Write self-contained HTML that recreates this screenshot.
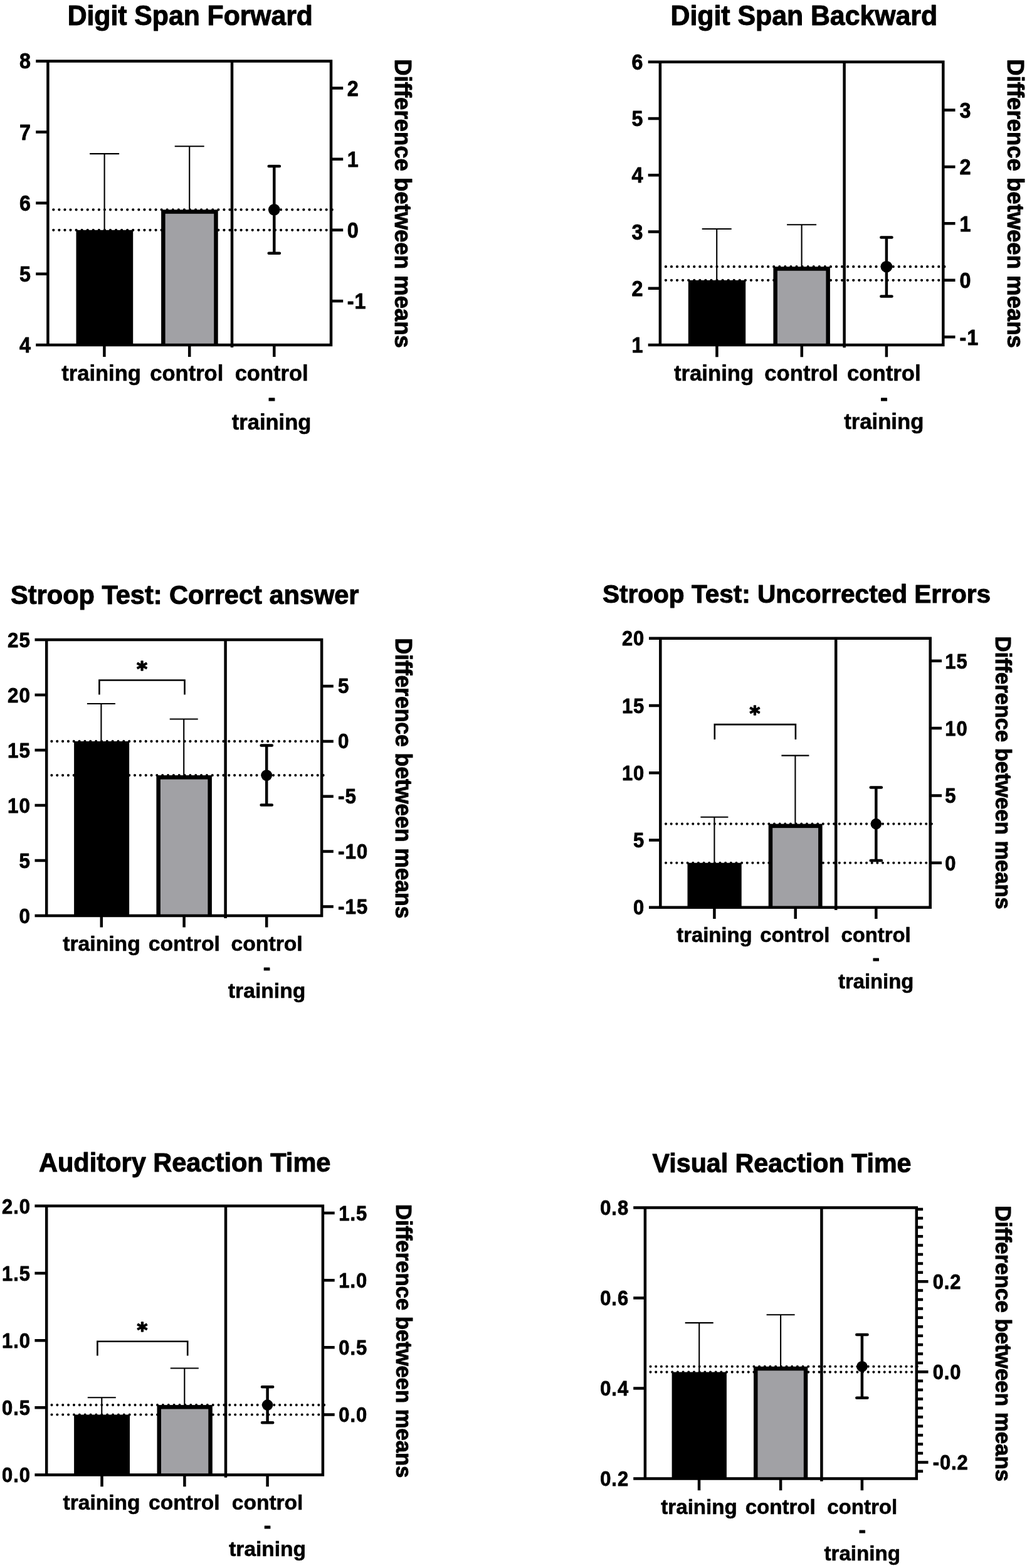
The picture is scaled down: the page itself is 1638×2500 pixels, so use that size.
<!DOCTYPE html>
<html lang="en">
<head>
<meta charset="utf-8">
<title>Cognitive test results: training vs control</title>
<style>
html,body{margin:0;padding:0;background:#fff;}
body{width:1638px;height:2500px;overflow:hidden;}
svg{display:block;filter:blur(0.5px);}
text{font-family:'Liberation Sans', sans-serif;font-weight:700;fill:#000;}
.star{font-family:'DejaVu Sans','Liberation Sans',sans-serif;}
.bd{stroke:#000;stroke-linejoin:round;paint-order:stroke fill;}
.ax{fill:none;stroke:#000;stroke-linecap:butt;}
.rc{stroke-linecap:round;}
.thin{fill:none;stroke:#000;stroke-linecap:butt;stroke-linejoin:miter;}
.dot{fill:none;stroke:#000;stroke-linecap:round;}
</style>
</head>
<body>
<svg width="1638" height="2500" viewBox="0 0 1638 2500">
<rect width="1638" height="2500" fill="#fff"/>
<g>
<text class="ttl bd" font-size="42.7" text-anchor="middle" stroke-width="1" transform="translate(303.3 39.9) scale(1 1.02)">Digit Span Forward</text>
<path class="dot" stroke-width="4.3" stroke-dasharray="0 9.07" d="M85.3 366.8H531.2"/>
<path class="dot" stroke-width="4.3" stroke-dasharray="0 9.07" d="M85.3 334.3H531.2"/>
<rect x="121.5" y="366.8" width="90.7" height="183.1" fill="#000"/>
<rect x="257.1" y="334.3" width="90.6" height="215.6" fill="#000"/>
<rect x="263.6" y="340.8" width="77.6" height="209.1" fill="#a1a1a5"/>
<path class="thin" stroke-width="2.1" d="M166.6 366.8V245.1M143.1 245.1H190.1"/>
<path class="thin" stroke-width="2.1" d="M302.2 334.3V233.3M278.7 233.3H325.7"/>
<path class="ax" stroke-width="4.5" d="M57.2 97.4H530.25M57.2 549.9H530.25M76.4 97.4V549.9M528 95.15V552.15M370 97.4V554.1"/>
<text class="lbl bd" font-size="34" text-anchor="end" stroke-width="0.8" letter-spacing="1" transform="translate(50 109.47) scale(0.95 1.03)">8</text>
<text class="lbl bd" font-size="34" text-anchor="end" stroke-width="0.8" letter-spacing="1" transform="translate(50 222.59) scale(0.95 1.03)">7</text>
<text class="lbl bd" font-size="34" text-anchor="end" stroke-width="0.8" letter-spacing="1" transform="translate(50 335.72) scale(0.95 1.03)">6</text>
<text class="lbl bd" font-size="34" text-anchor="end" stroke-width="0.8" letter-spacing="1" transform="translate(50 448.84) scale(0.95 1.03)">5</text>
<text class="lbl bd" font-size="34" text-anchor="end" stroke-width="0.8" letter-spacing="1" transform="translate(50 561.97) scale(0.95 1.03)">4</text>
<text class="lbl bd" font-size="34" stroke-width="0.8" letter-spacing="1" transform="translate(553.8 153.01) scale(0.95 1.03)">2</text>
<text class="lbl bd" font-size="34" stroke-width="0.8" letter-spacing="1" transform="translate(553.8 266.11) scale(0.95 1.03)">1</text>
<text class="lbl bd" font-size="34" stroke-width="0.8" letter-spacing="1" transform="translate(553.8 379.21) scale(0.95 1.03)">0</text>
<text class="lbl bd" font-size="34" stroke-width="0.8" letter-spacing="1" transform="translate(553.8 492.31) scale(0.95 1.03)">-1</text>
<path class="ax" stroke-width="4.5" d="M57.2 210.53H76.4M57.2 323.65H76.4M57.2 436.77H76.4M528 140.6H547.2M528 253.7H547.2M528 366.8H547.2M528 479.9H547.2M166.4 549.9V569.1M302.2 549.9V569.1M437.3 549.9V569.1"/>
<path class="ax rc" stroke-width="4.5" d="M437.3 264.9V403.8M428.7 264.9H445.9M428.7 403.8H445.9"/>
<circle cx="437.3" cy="334.3" r="9.3" fill="#000"/>
<text class="lbl bd" font-size="34.5" text-anchor="middle" stroke-width="0.6" transform="translate(161.6 606.9)">training</text>
<text class="lbl bd" font-size="34.5" text-anchor="middle" stroke-width="0.6" transform="translate(297.8 606.9)">control</text>
<text class="lbl bd" font-size="34.5" text-anchor="middle" stroke-width="0.6" transform="translate(433.1 606.9)">control</text>
<text class="lbl bd" font-size="34.5" text-anchor="middle" stroke-width="1.2" transform="translate(433.5 645.8)">-</text>
<text class="lbl bd" font-size="34.5" text-anchor="middle" stroke-width="0.6" transform="translate(433.1 684.7)">training</text>
<text class="lbl bd" font-size="36.5" stroke-width="1" transform="translate(630 94.3) rotate(90) scale(1 1.03)">Difference between means</text>
</g>
<g>
<text class="ttl bd" font-size="42.8" text-anchor="middle" stroke-width="1" transform="translate(1282.3 39.9) scale(1 1.02)">Digit Span Backward</text>
<path class="dot" stroke-width="4.3" stroke-dasharray="0 9.07" d="M1061.9 446.8H1508.2"/>
<path class="dot" stroke-width="4.3" stroke-dasharray="0 9.07" d="M1061.9 425.2H1508.2"/>
<rect x="1097.8" y="446.8" width="91.4" height="103.3" fill="#000"/>
<rect x="1233.4" y="425.2" width="90.5" height="124.9" fill="#000"/>
<rect x="1239.9" y="431.7" width="77.5" height="118.4" fill="#a1a1a5"/>
<path class="thin" stroke-width="2.1" d="M1143.2 446.8V365M1119.7 365H1166.7"/>
<path class="thin" stroke-width="2.1" d="M1278.6 425.2V358.3M1255.1 358.3H1302.1"/>
<path class="ax" stroke-width="4.5" d="M1033.7 98.75H1506.55M1033.7 550.1H1506.55M1052.9 98.75V550.1M1504.3 96.5V552.35M1346.6 98.75V554.3"/>
<text class="lbl bd" font-size="34" text-anchor="end" stroke-width="0.8" letter-spacing="1" transform="translate(1026.5 110.82) scale(0.95 1.03)">6</text>
<text class="lbl bd" font-size="34" text-anchor="end" stroke-width="0.8" letter-spacing="1" transform="translate(1026.5 201.09) scale(0.95 1.03)">5</text>
<text class="lbl bd" font-size="34" text-anchor="end" stroke-width="0.8" letter-spacing="1" transform="translate(1026.5 291.36) scale(0.95 1.03)">4</text>
<text class="lbl bd" font-size="34" text-anchor="end" stroke-width="0.8" letter-spacing="1" transform="translate(1026.5 381.63) scale(0.95 1.03)">3</text>
<text class="lbl bd" font-size="34" text-anchor="end" stroke-width="0.8" letter-spacing="1" transform="translate(1026.5 471.9) scale(0.95 1.03)">2</text>
<text class="lbl bd" font-size="34" text-anchor="end" stroke-width="0.8" letter-spacing="1" transform="translate(1026.5 562.17) scale(0.95 1.03)">1</text>
<text class="lbl bd" font-size="34" stroke-width="0.8" letter-spacing="1" transform="translate(1530.5 187.86) scale(0.95 1.03)">3</text>
<text class="lbl bd" font-size="34" stroke-width="0.8" letter-spacing="1" transform="translate(1530.5 278.31) scale(0.95 1.03)">2</text>
<text class="lbl bd" font-size="34" stroke-width="0.8" letter-spacing="1" transform="translate(1530.5 368.76) scale(0.95 1.03)">1</text>
<text class="lbl bd" font-size="34" stroke-width="0.8" letter-spacing="1" transform="translate(1530.5 459.21) scale(0.95 1.03)">0</text>
<text class="lbl bd" font-size="34" stroke-width="0.8" letter-spacing="1" transform="translate(1530.5 549.66) scale(0.95 1.03)">-1</text>
<path class="ax" stroke-width="4.5" d="M1033.7 189.02H1052.9M1033.7 279.29H1052.9M1033.7 369.56H1052.9M1033.7 459.83H1052.9M1504.3 175.45H1523.5M1504.3 265.9H1523.5M1504.3 356.35H1523.5M1504.3 446.8H1523.5M1504.3 537.25H1523.5M1143.4 550.1V569.3M1278.8 550.1V569.3M1413.9 550.1V569.3"/>
<path class="ax rc" stroke-width="4.5" d="M1413.9 378.5V472.4M1405.3 378.5H1422.5M1405.3 472.4H1422.5"/>
<circle cx="1413.9" cy="425.2" r="9.3" fill="#000"/>
<text class="lbl bd" font-size="34.7" text-anchor="middle" stroke-width="0.6" transform="translate(1138.6 606.9)">training</text>
<text class="lbl bd" font-size="34.7" text-anchor="middle" stroke-width="0.6" transform="translate(1278 606.9)">control</text>
<text class="lbl bd" font-size="34.7" text-anchor="middle" stroke-width="0.6" transform="translate(1409.8 606.9)">control</text>
<text class="lbl bd" font-size="34.7" text-anchor="middle" stroke-width="1.2" transform="translate(1410.1 645.5)">-</text>
<text class="lbl bd" font-size="34.7" text-anchor="middle" stroke-width="0.6" transform="translate(1409.8 684.1)">training</text>
<text class="lbl bd" font-size="36.5" stroke-width="1" transform="translate(1606.6 94.3) rotate(90) scale(1 1.03)">Difference between means</text>
</g>
<g>
<text class="ttl bd" font-size="41.55" text-anchor="middle" stroke-width="1" transform="translate(294.8 962.9) scale(1 1.02)">Stroop Test: Correct answer</text>
<path class="dot" stroke-width="4.2" stroke-dasharray="0 8.84" d="M82.4 1181.9H516.4"/>
<path class="dot" stroke-width="4.2" stroke-dasharray="0 8.84" d="M82.4 1236.1H516.4"/>
<rect x="118.1" y="1181.9" width="88" height="278" fill="#000"/>
<rect x="249.4" y="1236.1" width="88.5" height="223.8" fill="#000"/>
<rect x="255.9" y="1242.6" width="75.5" height="217.3" fill="#a1a1a5"/>
<path class="thin" stroke-width="2.1" d="M161.4 1181.9V1122M138.9 1122H183.9"/>
<path class="thin" stroke-width="2.1" d="M293.2 1236.1V1146.5M270.7 1146.5H315.7"/>
<path class="thin" stroke-width="2.6" d="M158.4 1107.6V1084.5H294.5V1107.6"/>
<text class="star bd" font-size="32.6" text-anchor="middle" stroke-width="1.6" transform="translate(226.5 1077.4)">*</text>
<path class="ax" stroke-width="4.5" d="M55.5 1019.9H515.35M55.5 1459.9H515.35M74.2 1019.9V1459.9M513.1 1017.65V1462.15M359.6 1019.9V1464.1"/>
<text class="lbl bd" font-size="33" text-anchor="end" stroke-width="0.8" letter-spacing="1" transform="translate(48.8 1031.62) scale(0.95 1.03)">25</text>
<text class="lbl bd" font-size="33" text-anchor="end" stroke-width="0.8" letter-spacing="1" transform="translate(48.8 1119.62) scale(0.95 1.03)">20</text>
<text class="lbl bd" font-size="33" text-anchor="end" stroke-width="0.8" letter-spacing="1" transform="translate(48.8 1207.62) scale(0.95 1.03)">15</text>
<text class="lbl bd" font-size="33" text-anchor="end" stroke-width="0.8" letter-spacing="1" transform="translate(48.8 1295.62) scale(0.95 1.03)">10</text>
<text class="lbl bd" font-size="33" text-anchor="end" stroke-width="0.8" letter-spacing="1" transform="translate(48.8 1383.62) scale(0.95 1.03)">5</text>
<text class="lbl bd" font-size="33" text-anchor="end" stroke-width="0.8" letter-spacing="1" transform="translate(48.8 1471.62) scale(0.95 1.03)">0</text>
<text class="lbl bd" font-size="33" stroke-width="0.8" letter-spacing="1" transform="translate(539 1105.27) scale(0.95 1.03)">5</text>
<text class="lbl bd" font-size="33" stroke-width="0.8" letter-spacing="1" transform="translate(539 1193.12) scale(0.95 1.03)">0</text>
<text class="lbl bd" font-size="33" stroke-width="0.8" letter-spacing="1" transform="translate(539 1280.97) scale(0.95 1.03)">-5</text>
<text class="lbl bd" font-size="33" stroke-width="0.8" letter-spacing="1" transform="translate(539 1368.82) scale(0.95 1.03)">-10</text>
<text class="lbl bd" font-size="33" stroke-width="0.8" letter-spacing="1" transform="translate(539 1456.67) scale(0.95 1.03)">-15</text>
<path class="ax" stroke-width="4.5" d="M55.5 1107.9H74.2M55.5 1195.9H74.2M55.5 1283.9H74.2M55.5 1371.9H74.2M513.1 1094.05H531.8M513.1 1181.9H531.8M513.1 1269.75H531.8M513.1 1357.6H531.8M513.1 1445.45H531.8M161.8 1459.9V1478.6M293.6 1459.9V1478.6M425.2 1459.9V1478.6"/>
<path class="ax rc" stroke-width="4.5" d="M425.2 1188.5V1283.6M416.6 1188.5H433.8M416.6 1283.6H433.8"/>
<circle cx="425.2" cy="1236.1" r="8.9" fill="#000"/>
<text class="lbl bd" font-size="33.7" text-anchor="middle" stroke-width="0.6" transform="translate(162 1515.7)">training</text>
<text class="lbl bd" font-size="33.7" text-anchor="middle" stroke-width="0.6" transform="translate(293.8 1515.7)">control</text>
<text class="lbl bd" font-size="33.7" text-anchor="middle" stroke-width="0.6" transform="translate(425.6 1515.7)">control</text>
<text class="lbl bd" font-size="33.7" text-anchor="middle" stroke-width="1.2" transform="translate(425.6 1553.5)">-</text>
<text class="lbl bd" font-size="33.7" text-anchor="middle" stroke-width="0.6" transform="translate(425.6 1591.3)">training</text>
<text class="lbl bd" font-size="35.45" stroke-width="1" transform="translate(631 1017.4) rotate(90) scale(1 1.03)">Difference between means</text>
</g>
<g>
<text class="ttl bd" font-size="40.58" text-anchor="middle" stroke-width="1" transform="translate(1270.5 961.2) scale(1 1.02)">Stroop Test: Uncorrected Errors</text>
<path class="dot" stroke-width="4.1" stroke-dasharray="0 8.65" d="M1062 1375.7H1487.1"/>
<path class="dot" stroke-width="4.1" stroke-dasharray="0 8.65" d="M1062 1313.6H1487.1"/>
<rect x="1096.5" y="1375.7" width="86.2" height="71.1" fill="#000"/>
<rect x="1225.7" y="1313.6" width="85.9" height="133.2" fill="#000"/>
<rect x="1232.2" y="1320.1" width="72.9" height="126.7" fill="#a1a1a5"/>
<path class="thin" stroke-width="2.1" d="M1139.4 1375.7V1302.8M1117.4 1302.8H1161.4"/>
<path class="thin" stroke-width="2.1" d="M1268.4 1313.6V1204.6M1246.4 1204.6H1290.4"/>
<path class="thin" stroke-width="2.6" d="M1139.8 1178.9V1155.1H1268.9V1178.9"/>
<text class="star bd" font-size="32.2" text-anchor="middle" stroke-width="1.6" transform="translate(1204 1148.4)">*</text>
<path class="ax" stroke-width="4.5" d="M1035 1017.8H1485.95M1035 1446.8H1485.95M1053.3 1017.8V1446.8M1483.7 1015.55V1449.05M1333.2 1017.8V1451"/>
<text class="lbl bd" font-size="32.5" text-anchor="end" stroke-width="0.8" letter-spacing="1" transform="translate(1028.2 1029.34) scale(0.95 1.03)">20</text>
<text class="lbl bd" font-size="32.5" text-anchor="end" stroke-width="0.8" letter-spacing="1" transform="translate(1028.2 1136.59) scale(0.95 1.03)">15</text>
<text class="lbl bd" font-size="32.5" text-anchor="end" stroke-width="0.8" letter-spacing="1" transform="translate(1028.2 1243.84) scale(0.95 1.03)">10</text>
<text class="lbl bd" font-size="32.5" text-anchor="end" stroke-width="0.8" letter-spacing="1" transform="translate(1028.2 1351.09) scale(0.95 1.03)">5</text>
<text class="lbl bd" font-size="32.5" text-anchor="end" stroke-width="0.8" letter-spacing="1" transform="translate(1028.2 1458.34) scale(0.95 1.03)">0</text>
<text class="lbl bd" font-size="32.5" stroke-width="0.8" letter-spacing="1" transform="translate(1507.3 1065.66) scale(0.95 1.03)">15</text>
<text class="lbl bd" font-size="32.5" stroke-width="0.8" letter-spacing="1" transform="translate(1507.3 1172.96) scale(0.95 1.03)">10</text>
<text class="lbl bd" font-size="32.5" stroke-width="0.8" letter-spacing="1" transform="translate(1507.3 1280.26) scale(0.95 1.03)">5</text>
<text class="lbl bd" font-size="32.5" stroke-width="0.8" letter-spacing="1" transform="translate(1507.3 1387.56) scale(0.95 1.03)">0</text>
<path class="ax" stroke-width="4.5" d="M1035 1125.05H1053.3M1035 1232.3H1053.3M1035 1339.55H1053.3M1483.7 1053.8H1502M1483.7 1161.1H1502M1483.7 1268.4H1502M1483.7 1375.7H1502M1139.4 1446.8V1465.1M1268.7 1446.8V1465.1M1397.3 1446.8V1465.1"/>
<path class="ax rc" stroke-width="4.5" d="M1397.3 1255.6V1371.9M1388.7 1255.6H1405.9M1388.7 1371.9H1405.9"/>
<circle cx="1397.3" cy="1313.6" r="8.8" fill="#000"/>
<text class="lbl bd" font-size="32.8" text-anchor="middle" stroke-width="0.6" transform="translate(1139.4 1501.5)">training</text>
<text class="lbl bd" font-size="32.8" text-anchor="middle" stroke-width="0.6" transform="translate(1267.9 1501.5)">control</text>
<text class="lbl bd" font-size="32.8" text-anchor="middle" stroke-width="0.6" transform="translate(1397.1 1501.5)">control</text>
<text class="lbl bd" font-size="32.8" text-anchor="middle" stroke-width="1.2" transform="translate(1397.1 1538.5)">-</text>
<text class="lbl bd" font-size="32.8" text-anchor="middle" stroke-width="0.6" transform="translate(1397.1 1575.5)">training</text>
<text class="lbl bd" font-size="34.5" stroke-width="1" transform="translate(1588.4 1014.5) rotate(90) scale(1 1.03)">Difference between means</text>
</g>
<g>
<text class="ttl bd" font-size="41.55" text-anchor="middle" stroke-width="1" transform="translate(294.7 1868.3) scale(1 1.02)">Auditory Reaction Time</text>
<path class="dot" stroke-width="4.1" stroke-dasharray="0 8.87" d="M82.5 2255.5H517.7"/>
<path class="dot" stroke-width="4.1" stroke-dasharray="0 8.87" d="M82.5 2240.1H517.7"/>
<rect x="118.1" y="2255.5" width="88.9" height="96" fill="#000"/>
<rect x="250.5" y="2240.1" width="88.3" height="111.4" fill="#000"/>
<rect x="257" y="2246.6" width="75.3" height="104.9" fill="#a1a1a5"/>
<path class="thin" stroke-width="2.1" d="M162.3 2255.5V2228.3M139.8 2228.3H184.8"/>
<path class="thin" stroke-width="2.1" d="M294.3 2240.1V2181.5M271.8 2181.5H316.8"/>
<path class="thin" stroke-width="2.6" d="M155.4 2161.4V2138.7H299.2V2161.4"/>
<text class="star bd" font-size="32.2" text-anchor="middle" stroke-width="1.6" transform="translate(226.9 2131.2)">*</text>
<path class="ax" stroke-width="4.5" d="M55.4 1922.8H517.15M55.4 2351.5H517.15M74.2 1922.8V2351.5M514.9 1920.55V2353.75M360 1922.8V2355.7"/>
<text class="lbl bd" font-size="32.5" text-anchor="end" stroke-width="0.8" letter-spacing="1" transform="translate(48.8 1934.73) scale(0.95 1.03)">2.0</text>
<text class="lbl bd" font-size="32.5" text-anchor="end" stroke-width="0.8" letter-spacing="1" transform="translate(48.8 2041.9) scale(0.95 1.03)">1.5</text>
<text class="lbl bd" font-size="32.5" text-anchor="end" stroke-width="0.8" letter-spacing="1" transform="translate(48.8 2149.08) scale(0.95 1.03)">1.0</text>
<text class="lbl bd" font-size="32.5" text-anchor="end" stroke-width="0.8" letter-spacing="1" transform="translate(48.8 2256.25) scale(0.95 1.03)">0.5</text>
<text class="lbl bd" font-size="32.5" text-anchor="end" stroke-width="0.8" letter-spacing="1" transform="translate(48.8 2363.43) scale(0.95 1.03)">0.0</text>
<text class="lbl bd" font-size="32.5" stroke-width="0.8" letter-spacing="1" transform="translate(540.3 1945.96) scale(0.95 1.03)">1.5</text>
<text class="lbl bd" font-size="32.5" stroke-width="0.8" letter-spacing="1" transform="translate(540.3 2053.06) scale(0.95 1.03)">1.0</text>
<text class="lbl bd" font-size="32.5" stroke-width="0.8" letter-spacing="1" transform="translate(540.3 2160.16) scale(0.95 1.03)">0.5</text>
<text class="lbl bd" font-size="32.5" stroke-width="0.8" letter-spacing="1" transform="translate(540.3 2267.26) scale(0.95 1.03)">0.0</text>
<path class="ax" stroke-width="4.5" d="M55.4 2029.97H74.2M55.4 2137.15H74.2M55.4 2244.32H74.2M514.9 1934.1H533.7M514.9 2041.2H533.7M514.9 2148.3H533.7M514.9 2255.4H533.7M162.5 2351.5V2370.3M294.4 2351.5V2370.3M426.6 2351.5V2370.3"/>
<path class="ax rc" stroke-width="4.5" d="M426.6 2211.3V2268.3M418 2211.3H435.2M418 2268.3H435.2"/>
<circle cx="426.6" cy="2240.1" r="8.8" fill="#000"/>
<text class="lbl bd" font-size="33.5" text-anchor="middle" stroke-width="0.6" transform="translate(162 2406.9)">training</text>
<text class="lbl bd" font-size="33.5" text-anchor="middle" stroke-width="0.6" transform="translate(293.8 2406.9)">control</text>
<text class="lbl bd" font-size="33.5" text-anchor="middle" stroke-width="0.6" transform="translate(426.6 2406.9)">control</text>
<text class="lbl bd" font-size="33.5" text-anchor="middle" stroke-width="1.2" transform="translate(426.6 2444.1)">-</text>
<text class="lbl bd" font-size="33.5" text-anchor="middle" stroke-width="0.6" transform="translate(426.6 2481.3)">training</text>
<text class="lbl bd" font-size="34.6" stroke-width="1" transform="translate(631.5 1920) rotate(90) scale(1 1.03)">Difference between means</text>
</g>
<g>
<text class="ttl bd" font-size="41.2" text-anchor="middle" stroke-width="1" transform="translate(1247 1868.8) scale(1 1.02)">Visual Reaction Time</text>
<path class="dot" stroke-width="4.1" stroke-dasharray="0 8.68" d="M1037.5 2187.6H1464.6"/>
<path class="dot" stroke-width="4.1" stroke-dasharray="0 8.68" d="M1037.5 2178.8H1464.6"/>
<rect x="1071.6" y="2187.6" width="87.3" height="170" fill="#000"/>
<rect x="1202" y="2178.8" width="86.3" height="178.8" fill="#000"/>
<rect x="1208.5" y="2185.3" width="73.3" height="172.3" fill="#a1a1a5"/>
<path class="thin" stroke-width="2.1" d="M1115.2 2187.6V2109.1M1092.7 2109.1H1137.7"/>
<path class="thin" stroke-width="2.1" d="M1245.1 2178.8V2096.2M1222.6 2096.2H1267.6"/>
<path class="ax" stroke-width="4.5" d="M1010.2 1925.4H1464.05M1010.2 2357.6H1464.05M1028.9 1925.4V2357.6M1461.8 1923.15V2359.85M1310.4 1925.4V2361.8"/>
<text class="lbl bd" font-size="32.5" text-anchor="end" stroke-width="0.8" letter-spacing="1" transform="translate(1003 1936.94) scale(0.95 1.03)">0.8</text>
<text class="lbl bd" font-size="32.5" text-anchor="end" stroke-width="0.8" letter-spacing="1" transform="translate(1003 2081) scale(0.95 1.03)">0.6</text>
<text class="lbl bd" font-size="32.5" text-anchor="end" stroke-width="0.8" letter-spacing="1" transform="translate(1003 2225.07) scale(0.95 1.03)">0.4</text>
<text class="lbl bd" font-size="32.5" text-anchor="end" stroke-width="0.8" letter-spacing="1" transform="translate(1003 2369.14) scale(0.95 1.03)">0.2</text>
<text class="lbl bd" font-size="32.5" stroke-width="0.8" letter-spacing="1" transform="translate(1487.7 2055.06) scale(0.95 1.03)">0.2</text>
<text class="lbl bd" font-size="32.5" stroke-width="0.8" letter-spacing="1" transform="translate(1487.7 2199.16) scale(0.95 1.03)">0.0</text>
<text class="lbl bd" font-size="32.5" stroke-width="0.8" letter-spacing="1" transform="translate(1487.7 2343.26) scale(0.95 1.03)">-0.2</text>
<path class="ax" stroke-width="4.5" d="M1010.2 2069.47H1028.9M1010.2 2213.53H1028.9M1461.8 2043.2H1480.5M1461.8 2187.3H1480.5M1461.8 2331.4H1480.5M1461.8 2345.81H1472.1M1461.8 2316.99H1472.1M1461.8 2302.58H1472.1M1461.8 2288.17H1472.1M1461.8 2273.76H1472.1M1461.8 2259.35H1472.1M1461.8 2244.94H1472.1M1461.8 2230.53H1472.1M1461.8 2216.12H1472.1M1461.8 2201.71H1472.1M1461.8 2172.89H1472.1M1461.8 2158.48H1472.1M1461.8 2144.07H1472.1M1461.8 2129.66H1472.1M1461.8 2115.25H1472.1M1461.8 2100.84H1472.1M1461.8 2086.43H1472.1M1461.8 2072.02H1472.1M1461.8 2057.61H1472.1M1461.8 2028.79H1472.1M1461.8 2014.38H1472.1M1461.8 1999.97H1472.1M1461.8 1985.56H1472.1M1461.8 1971.15H1472.1M1461.8 1956.74H1472.1M1461.8 1942.33H1472.1M1461.8 1927.92H1472.1M1115 2357.6V2376.3M1245.1 2357.6V2376.3M1374.9 2357.6V2376.3"/>
<path class="ax rc" stroke-width="4.5" d="M1374.9 2128V2228.8M1366.3 2128H1383.5M1366.3 2228.8H1383.5"/>
<circle cx="1374.9" cy="2178.8" r="8.8" fill="#000"/>
<text class="lbl bd" font-size="33.1" text-anchor="middle" stroke-width="0.6" transform="translate(1115 2414)">training</text>
<text class="lbl bd" font-size="33.1" text-anchor="middle" stroke-width="0.6" transform="translate(1244.7 2414)">control</text>
<text class="lbl bd" font-size="33.1" text-anchor="middle" stroke-width="0.6" transform="translate(1375.2 2414)">control</text>
<text class="lbl bd" font-size="33.1" text-anchor="middle" stroke-width="1.2" transform="translate(1375.2 2451.1)">-</text>
<text class="lbl bd" font-size="33.1" text-anchor="middle" stroke-width="0.6" transform="translate(1375.2 2488.2)">training</text>
<text class="lbl bd" font-size="34.9" stroke-width="1" transform="translate(1588.4 1922.2) rotate(90) scale(1 1.03)">Difference between means</text>
</g>
</svg>
</body>
</html>
